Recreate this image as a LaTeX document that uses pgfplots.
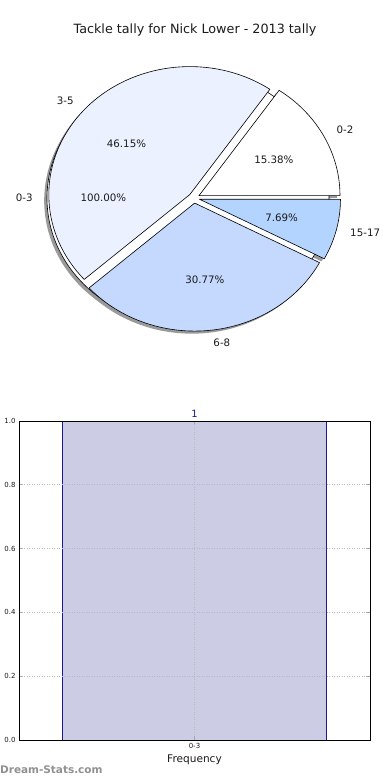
\documentclass[border=0pt]{standalone}
\usepackage{pgfplots}
\pgfplotsset{compat=1.18}
\usepackage{pgfplotstable}
\usepackage{fontspec}
\setmainfont{DejaVu Sans}

\definecolor{c0}{HTML}{FFFFFF}
\definecolor{c1}{HTML}{EBF1FF}
\definecolor{c2}{HTML}{C5D9FF}
\definecolor{c3}{HTML}{B3D4FF}
\definecolor{shad}{HTML}{9A9A9A}
\definecolor{barfill}{HTML}{CCCCE5}
\definecolor{baredge}{HTML}{1A1A8C}
\definecolor{wm}{HTML}{909090}
\definecolor{txt}{HTML}{1A1A1A}

\pgfplotstableread{
label pct
0-2 15.38
3-5 46.15
6-8 30.77
15-17 7.69
}\piedata

\pgfplotstableread{
x y
0 1
}\bardata

\tikzset{plab/.style={font=\fontsize{10.3}{12}\selectfont, inner sep=0pt, text=txt}}

\begin{document}
\begin{tikzpicture}
\useasboundingbox (0,0) rectangle (390bp,780bp);
\begin{axis}[at={(0,0)}, anchor=south west, scale only axis,
  width=390bp, height=780bp, xmin=0, xmax=390, ymin=0, ymax=780,
  hide axis, clip=false]
% --- slice shadows
\def\cum{0}
\pgfplotsforeachungrouped \i in {0,...,3}{%
  \pgfplotstablegetelem{\i}{pct}\of\piedata \let\pct\pgfplotsretval
  \pgfmathsetmacro{\angA}{\cum}
  \pgfmathsetmacro{\angB}{\cum+3.6*\pct}
  \pgfmathsetmacro{\angM}{(\angA+\angB)/2}
  \pgfmathsetmacro{\sx}{194+0.04*141*cos(\angM)-2.8}
  \pgfmathsetmacro{\sy}{582+0.04*128*sin(\angM)-2.6}
  \edef\cmd{\noexpand\fill[shad] (axis cs:\sx,\sy) -- ++(\angA:141bp and 128bp)
     arc[start angle=\angA, end angle=\angB, x radius=141bp, y radius=128bp] -- cycle;}%
  \cmd
  \edef\cum{\angB}%
}
% --- second (100%) pie: shadow and body
\fill[shad] (axis cs:185.2,579.4) ellipse [x radius=141bp, y radius=128bp];
\filldraw[fill=white, draw=black, line width=0.6bp] (axis cs:188,582) ellipse [x radius=141bp, y radius=128bp];
% --- slices
\def\cum{0}
\pgfplotsforeachungrouped \i in {0,...,3}{%
  \pgfplotstablegetelem{\i}{pct}\of\piedata \let\pct\pgfplotsretval
  \pgfmathsetmacro{\angA}{\cum}
  \pgfmathsetmacro{\angB}{\cum+3.6*\pct}
  \pgfmathsetmacro{\angM}{(\angA+\angB)/2}
  \pgfmathsetmacro{\sx}{194+0.04*141*cos(\angM)}
  \pgfmathsetmacro{\sy}{582+0.04*128*sin(\angM)}
  \edef\cmd{\noexpand\filldraw[fill=c\i, draw=black, line width=0.6bp, line join=round] (axis cs:\sx,\sy) -- ++(\angA:141bp and 128bp)
     arc[start angle=\angA, end angle=\angB, x radius=141bp, y radius=128bp] -- cycle;}%
  \cmd
  \edef\cum{\angB}%
}
% --- labels
\def\cum{0}
\pgfplotsforeachungrouped \i in {0,...,3}{%
  \pgfplotstablegetelem{\i}{pct}\of\piedata \let\pct\pgfplotsretval
  \pgfplotstablegetelem{\i}{label}\of\piedata \let\lab\pgfplotsretval
  \pgfmathsetmacro{\angA}{\cum}
  \pgfmathsetmacro{\angB}{\cum+3.6*\pct}
  \pgfmathsetmacro{\angM}{(\angA+\angB)/2}
  \pgfmathsetmacro{\sx}{194+0.04*141*cos(\angM)}
  \pgfmathsetmacro{\sy}{582+0.04*128*sin(\angM)}
  \pgfmathsetmacro{\lx}{\sx+1.1*141*cos(\angM)}
  \pgfmathsetmacro{\ly}{\sy+1.1*128*sin(\angM)}
  \pgfmathsetmacro{\px}{\sx+0.6*141*cos(\angM)}
  \pgfmathsetmacro{\py}{\sy+0.6*128*sin(\angM)}
  \pgfmathparse{cos(\angM)>0 ? 1 : 0}%
  \ifdim\pgfmathresult pt>0.5pt \def\anc{west}\else\def\anc{east}\fi
  \edef\cmd{\noexpand\node[plab, anchor=\anc] at (axis cs:\lx,\ly) {\lab};
    \noexpand\node[plab, anchor=center] at (axis cs:\px,\py) {\pct\%};}%
  \cmd
  \edef\cum{\angB}%
}
\node[plab, anchor=east] at (axis cs:32.9,582) {0-3};
\node[plab, anchor=center] at (axis cs:103.4,582) {100.00\%};
\node[font=\fontsize{12.8}{15}\selectfont, text=txt] at (axis cs:195,750) {Tackle tally for Nick Lower - 2013 tally};
\node[anchor=west, inner sep=0pt, text=wm, font=\bfseries\fontsize{10.5}{12}\selectfont] at (axis cs:0,10) {Dream-Stats.com};
\end{axis}

\begin{axis}[at={(19bp,40bp)}, anchor=south west, scale only axis,
  width=351bp, height=319bp,
  xmin=-0.532, xmax=0.532, ymin=0, ymax=1,
  ybar, bar width=264bp,
  xtick={0}, xticklabels={0-3},
  ytick={0,0.2,0.4,0.6,0.8,1.0},
  /pgf/number format/assume math mode=true,
  yticklabel style={/pgf/number format/.cd, fixed, fixed zerofill, precision=1},
  tick label style={font=\fontsize{7}{8}\selectfont, text=txt},
  ymajorgrids, xmajorgrids,
  grid style={gray!55, line width=0.8bp, dash pattern=on 1bp off 1.5bp},
  axis on top,
  axis line style={black, line width=0.9bp},
  tick align=inside, major tick length=3.5bp,
  major tick style={gray!70, line width=0.8bp},
  xlabel={Frequency},
  xlabel style={at={(axis description cs:0.5,0)}, anchor=center, yshift=-20bp, font=\fontsize{10.6}{12}\selectfont, text=txt},
  nodes near coords,
  every node near coord/.append style={text=baredge, font=\fontsize{10}{12}\selectfont, /pgf/number format/assume math mode=true, yshift=0bp},
]
\addplot[fill=barfill, draw=baredge, line width=0.8bp] table[x=x, y=y] {\bardata};
\end{axis}
\end{tikzpicture}
\end{document}
